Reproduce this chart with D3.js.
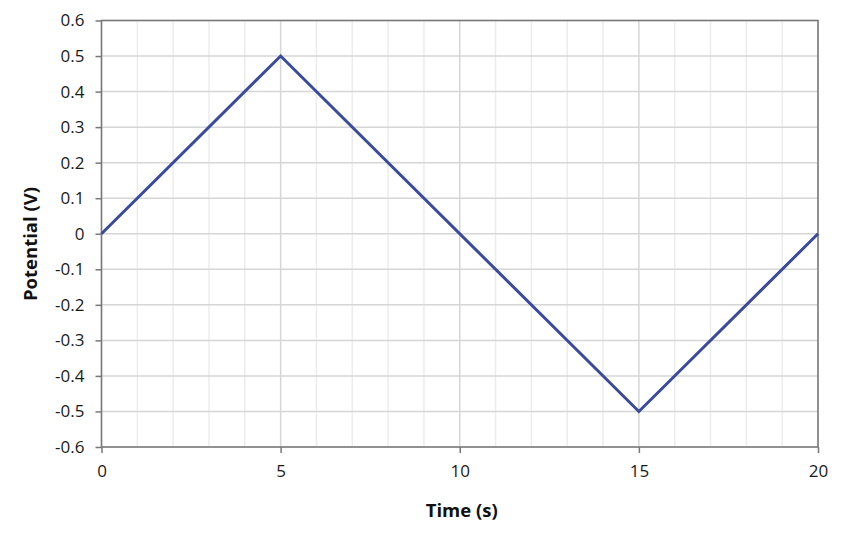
<!DOCTYPE html>
<html lang="en">
<head>
    <meta charset="UTF-8">
    <title>Potential vs Time</title>
    <script src="https://d3js.org/d3.v7.min.js"></script>
    <style>
        body { margin: 0; background: #fff; }
        text { font-family: "Open Sans", sans-serif; }
    </style>
</head>
<body>
<div id="chart"></div>
<script>
    // data
    var times = [0, 5, 15, 20];
    var potentials = [0, 0.5, -0.5, 0];
    var xTicks = [0, 5, 10, 15, 20];
    var yTicks = [-0.6, -0.5, -0.4, -0.3, -0.2, -0.1, 0, 0.1, 0.2, 0.3, 0.4, 0.5, 0.6];
    var xMinor = d3.range(0, 21, 1);

    var margin = {top: 20.5, right: 30, bottom: 90, left: 101.5},
        width = 848 - margin.left - margin.right,
        height = 537 - margin.top - margin.bottom;

    var svg = d3.select("#chart")
        .append("svg")
            .attr("width", 848)
            .attr("height", 537)
        .append("g")
            .attr("transform", "translate(" + margin.left + "," + margin.top + ")");

    var x = d3.scaleLinear().domain([0, 20]).range([0, width]);
    var y = d3.scaleLinear().domain([-0.6, 0.6]).range([height, 0]);

    // minor vertical grid
    svg.selectAll("line.minor")
        .data(xMinor.filter(function (d) { return d % 5 != 0; }))
        .enter().append("line")
            .attr("class", "minor")
            .attr("x1", function (d) { return x(d); })
            .attr("x2", function (d) { return x(d); })
            .attr("y1", 0).attr("y2", height)
            .style("stroke", "#ececec").style("stroke-width", 1.5);

    // major grid
    svg.selectAll("line.vmajor")
        .data(xTicks)
        .enter().append("line")
            .attr("class", "vmajor")
            .attr("x1", function (d) { return x(d); })
            .attr("x2", function (d) { return x(d); })
            .attr("y1", 0).attr("y2", height)
            .style("stroke", "#d6d6d6").style("stroke-width", 1.5);
    svg.selectAll("line.hmajor")
        .data(yTicks)
        .enter().append("line")
            .attr("class", "hmajor")
            .attr("x1", 0).attr("x2", width)
            .attr("y1", function (d) { return y(d); })
            .attr("y2", function (d) { return y(d); })
            .style("stroke", "#d6d6d6").style("stroke-width", 1.5);

    // frame
    svg.append("rect")
        .attr("width", width).attr("height", height)
        .style("fill", "none").style("stroke", "#777").style("stroke-width", 1.5);

    var xAxis = svg.append("g")
        .attr("transform", "translate(0," + height + ")")
        .call(d3.axisBottom(x).tickValues(xTicks).tickSize(6).tickPadding(12).tickFormat(d3.format("d")));
    var yAxis = svg.append("g")
        .call(d3.axisLeft(y).tickValues(yTicks).tickSize(6).tickPadding(11)
            .tickFormat(function (d) { return Math.abs(d) < 1e-9 ? "0" : d.toFixed(1); }));

    [xAxis, yAxis].forEach(function (a) {
        a.select(".domain").remove();
        a.selectAll("line").style("stroke", "#777").style("stroke-width", 1.5);
        a.selectAll("text").style("font-family", "'Open Sans', sans-serif")
            .style("font-size", "17px").style("fill", "#1a1a1a");
    });

    var line = d3.line()
        .x(function (d, i) { return x(times[i]); })
        .y(function (d) { return y(d); });

    svg.append("path")
        .datum(potentials)
        .attr("d", line)
        .style("fill", "none")
        .style("stroke", "#3a4a9c")
        .style("stroke-width", 3);

    svg.append("text")
        .attr("x", width / 2 + 2)
        .attr("y", height + 70)
        .attr("text-anchor", "middle")
        .style("font-size", "18.5px").style("font-weight", "bold").style("fill", "#111")
        .text("Time (s)");

    svg.append("text")
        .attr("transform", "translate(" + (37 - margin.left) + "," + (244 - margin.top) + ") rotate(-90)")
        .attr("text-anchor", "middle")
        .style("font-size", "18.5px").style("font-weight", "bold").style("fill", "#111")
        .text("Potential (V)");
</script>
</body>
</html>
